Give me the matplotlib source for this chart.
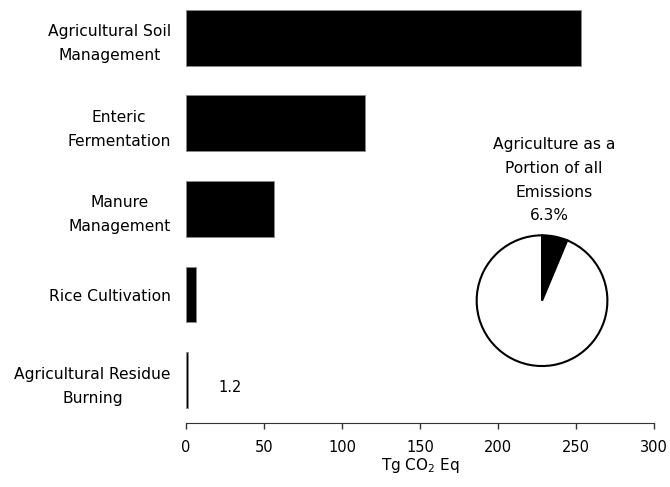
#! /usr/bin/env python3

import numpy as np
import matplotlib
matplotlib.use('Agg')
import matplotlib.pyplot as plt

# emission sources, Tg CO2 Eq
categories = ['Agricultural Soil\nManagement', 'Enteric\nFermentation',
              'Manure\nManagement', 'Rice Cultivation',
              'Agricultural Residue\nBurning']
values = [253.0, 115.0, 56.6, 6.4, 1.2]
x_ticks = [0, 50, 100, 150, 200, 250, 300]

# share of all emissions for the inset pie
pie_share = [6.3, 93.7]
pie_title = 'Agriculture as a\nPortion of all\nEmissions'
pie_label = '6.3%'

plt.rcParams['font.family'] = 'DejaVu Sans'
plt.rcParams['font.size'] = 10.5

fig = plt.figure(figsize=(6.7, 4.87), dpi=100)
ax = fig.add_axes([0.2776, 0.1314, 0.6985, 0.858])

pos = np.arange(len(categories))
ax.barh(pos, values, height=0.65, color='black', edgecolor='#888888', linewidth=0.6)
ax.set_ylim(4.5, -0.38)
ax.set_xlim(0, 300)
ax.set_xticks(x_ticks)
ax.set_yticks(pos)
ax.set_yticklabels(categories, ha='right', multialignment='center',
                   fontsize=11.2, linespacing=1.75)
ax.tick_params(axis='y', length=0, pad=11)
ax.tick_params(axis='x', length=4, width=1, color='#333333', pad=8)
for side in ['top', 'right', 'left']:
    ax.spines[side].set_visible(False)
ax.spines['bottom'].set_color('#333333')
ax.set_xlabel('Tg CO$_2$ Eq', labelpad=1, fontsize=11)

# small value gets a label
ax.annotate('%.1f' % values[4], xy=(values[4], pos[4]), xytext=(22, -5),
            textcoords='offset points', ha='left', va='center')

# inset pie
pax = fig.add_axes([0.7095, 0.2456, 0.199, 0.274])
pax.pie(pie_share, colors=['black', 'white'], startangle=90, counterclock=False,
        wedgeprops=dict(edgecolor='black', linewidth=1.5))
pax.set_xlim(-1.02, 1.02)
pax.set_ylim(-1.02, 1.02)
pax.set_aspect('equal')
fig.text(0.827, 0.655, pie_title, ha='center', va='center', linespacing=1.75,
         fontsize=11.2)
fig.text(0.82, 0.5585, pie_label, ha='center', va='center', fontsize=11)

fig.savefig('out.png', dpi=100)
